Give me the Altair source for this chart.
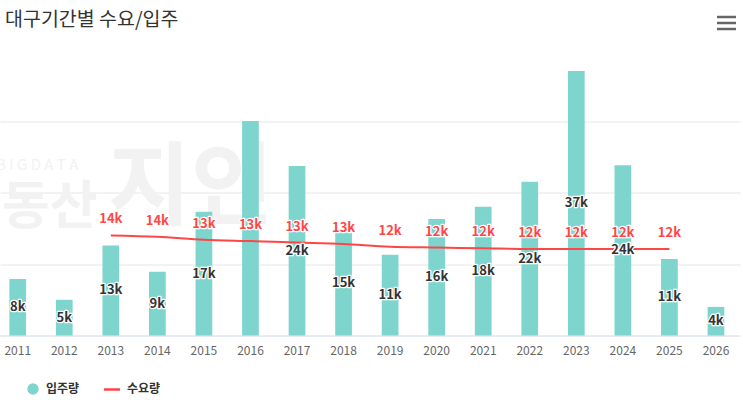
import altair as alt
import pandas as pd

# Yearly move-in supply (입주량) and estimated demand (수요량), in households
years = [2011, 2012, 2013, 2014, 2015, 2016, 2017, 2018,
         2019, 2020, 2021, 2022, 2023, 2024, 2025, 2026]
supply = [7900, 5000, 12600, 8900, 17300, 30000, 23700, 14600,
          11300, 16300, 18000, 21500, 37000, 23800, 10700, 4000]

demand_years = [2013, 2014, 2015, 2016, 2017, 2018, 2019,
                2020, 2021, 2022, 2023, 2024, 2025]
demand = [14000, 13800, 13400, 13200, 13000, 12800, 12400,
          12300, 12200, 12100, 12100, 12100, 12100]

# Bar labels that collide with a demand label are hidden
hidden_bar_labels = [2016]

TEAL = "#7dd5cd"
RED = "#ff4646"
FONT = "Noto Sans CJK KR"

supply_df = pd.DataFrame({"year": years, "supply": supply})
demand_df = pd.DataFrame({"year": demand_years, "demand": demand})
one = pd.DataFrame({"k": [0]})

x = alt.X(
    "year:O",
    scale=alt.Scale(domain=years, paddingInner=0.641, paddingOuter=0.269, align=0.374),
    axis=alt.Axis(
        title=None, labelAngle=0, ticks=False, grid=False,
        domainColor="#ccd6eb", domainWidth=1,
        labelColor="#666666", labelFontSize=12, labelFont=FONT, labelPadding=10,
    ),
)
y_scale = alt.Scale(domain=[0, 40000], nice=False)
y_axis = alt.Axis(
    title=None, labels=False, ticks=False, domain=False,
    values=[10000, 20000, 30000], gridColor="#e6e6e6", gridWidth=1,
)

# Faint watermark behind the plot
wm_big = alt.Chart(one).mark_text(
    text="부동산", font=FONT, fontSize=52, fontWeight="bold", color="#f2f2f2",
    align="left", baseline="middle",
).encode(x=alt.value(-46), y=alt.value(158))
wm_logo = alt.Chart(one).mark_text(
    text="지인", font=FONT, fontSize=90, fontWeight="bold", color="#f2f2f2",
    align="left", baseline="middle",
).encode(x=alt.value(108), y=alt.value(140))
wm_small = alt.Chart(one).mark_text(
    text="B I G D A T A", font=FONT, fontSize=15, color="#f2f2f2",
    align="left", baseline="middle",
).encode(x=alt.value(-4), y=alt.value(115))

bars = alt.Chart(supply_df).mark_bar(color=TEAL).encode(
    x=x,
    y=alt.Y("supply:Q", scale=y_scale, axis=y_axis),
)

line = alt.Chart(demand_df).mark_line(
    color=RED, strokeWidth=2, interpolate="monotone"
).encode(x=x, y=alt.Y("demand:Q", scale=y_scale))

label_expr = "format(datum.v / 1000, '.0f') + 'k'"

bar_base = alt.Chart(supply_df).transform_filter(
    alt.FieldOneOfPredicate(field="year", oneOf=hidden_bar_labels).__invert__()
).transform_calculate(
    v="datum.supply", mid="datum.supply / 2", lbl=label_expr
)
bar_halo = bar_base.mark_text(
    font=FONT, fontSize=13, fontWeight="bold", stroke="white", strokeWidth=2.5,
    strokeJoin="round", color="white", baseline="middle",
).encode(x=x, y=alt.Y("mid:Q", scale=y_scale), text="lbl:N")
bar_text = bar_base.mark_text(
    font=FONT, fontSize=13, fontWeight="bold", color="#333333", baseline="middle",
).encode(x=x, y=alt.Y("mid:Q", scale=y_scale), text="lbl:N")

dem_base = alt.Chart(demand_df).transform_calculate(v="datum.demand", lbl=label_expr)
dem_halo = dem_base.mark_text(
    font=FONT, fontSize=13, fontWeight="bold", stroke="white", strokeWidth=2.5,
    strokeJoin="round", color="white", baseline="middle", dy=-16,
).encode(x=x, y=alt.Y("demand:Q", scale=y_scale), text="lbl:N")
dem_text = dem_base.mark_text(
    font=FONT, fontSize=13, fontWeight="bold", color=RED, baseline="middle", dy=-16,
).encode(x=x, y=alt.Y("demand:Q", scale=y_scale), text="lbl:N")

# Title and menu icon
title = alt.Chart(one).mark_text(
    text="대구기간별 수요/입주", font=FONT, fontSize=19.5, color="#333333",
    align="left", baseline="middle",
).encode(x=alt.value(5), y=alt.value(-30))
menu = alt.Chart(pd.DataFrame({"yy": [-32.5, -26.5, -20.5]})).mark_rule(
    color="#666666", strokeWidth=2.5
).encode(x=alt.value(717), x2=alt.value(736), y=alt.Y("yy:Q", scale=None))

# Custom legend along the bottom
leg_dot = alt.Chart(one).mark_point(
    shape="circle", filled=True, color=TEAL, size=130, opacity=1
).encode(x=alt.value(33), y=alt.value(339.5))
leg_dot_txt = alt.Chart(one).mark_text(
    text="입주량", font=FONT, fontSize=12, fontWeight="bold", color="#333333",
    align="left", baseline="middle",
).encode(x=alt.value(46), y=alt.value(339.5))
leg_line = alt.Chart(one).mark_rule(color=RED, strokeWidth=2.5).encode(
    x=alt.value(104), x2=alt.value(120), y=alt.value(340)
)
leg_line_txt = alt.Chart(one).mark_text(
    text="수요량", font=FONT, fontSize=12, fontWeight="bold", color="#333333",
    align="left", baseline="middle",
).encode(x=alt.value(127), y=alt.value(339.5))

chart = alt.layer(
    wm_small, wm_big, wm_logo,
    bars, line, bar_halo, bar_text, dem_halo, dem_text,
    title, menu, leg_dot, leg_dot_txt, leg_line, leg_line_txt,
).properties(
    width=740, height=286,
    autosize=alt.AutoSizeParams(type="none"),
    padding={"left": 0, "top": 49.5, "right": 3, "bottom": 64.5},
).configure(background="white").configure_view(stroke=None)

chart.save("out.html", embed_options={"renderer": "svg", "actions": False})
